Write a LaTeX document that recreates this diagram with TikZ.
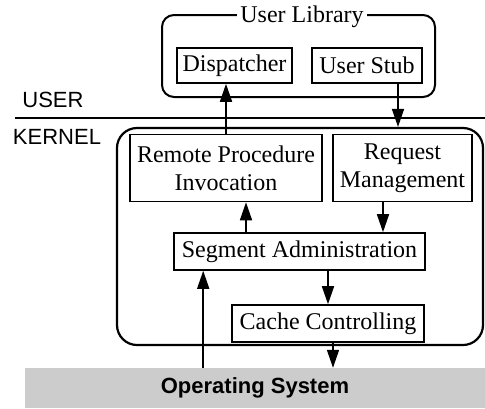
\documentclass[tikz,border=0pt]{standalone}
\usepackage{fontspec}
\setmainfont{Liberation Serif}
\newfontfamily\hv{Liberation Sans}
\usetikzlibrary{arrows.meta}
\begin{document}
\begin{tikzpicture}[x=1pt,y=-1pt,
  box/.style={draw,line width=1.6pt,inner sep=0pt,align=center,
    font=\fontsize{24}{28}\selectfont},
  arr/.style={line width=1.6pt,-{Triangle[length=18pt,width=12pt]}},
  lbl/.style={font=\hv\fontsize{22}{24}\selectfont,inner sep=0pt}]
\useasboundingbox (0,0) rectangle (485,408);
\fill[white] (0,0) rectangle (485,408);
% Operating system band
\node[fill=black!20,minimum width=460pt,minimum height=40pt,inner sep=0pt,
  font=\hv\bfseries\fontsize{22}{24}\selectfont] (os) at (255,388) {Operating System};
% user library
\node[draw,line width=2pt,rounded corners=12pt,minimum width=273pt,minimum height=82pt] (ulib) at (298.5,56) {};
\node[fill=white,inner sep=3pt,font=\fontsize{24}{28}\selectfont] (ultitle) at (302,17) {User Library};
\node[box,minimum width=115pt,minimum height=35pt] (disp) at (234.5,65.5) {Dispatcher};
\node[box,minimum width=110pt,minimum height=35pt] (us) at (367,65.5) {User Stub};
% user/kernel line
\coordinate (l1) at (15,118);
\coordinate (l2) at (485,118);
\draw[line width=2.2pt] (l1) -- (l2);
\node[lbl] (user) at (53,100) {USER};
\node[lbl] (kernel) at (57,136.5) {KERNEL};
% kernel
\node[draw,line width=2.2pt,rounded corners=20pt,minimum width=366pt,minimum height=217pt] (kern) at (300,236.5) {};
\node[box,minimum width=192pt,minimum height=67pt] (rpi) at (226,168) {Remote Procedure\\Invocation};
\node[box,minimum width=139pt,minimum height=67pt] (rm) at (402.5,168) {Request\\Management};
\node[box,minimum width=251pt,minimum height=37pt] (seg) at (299.5,251.5) {Segment Administration};
\node[box,minimum width=192pt,minimum height=37pt] (cache) at (328,323.5) {Cache Controlling};
% arrows
\draw[arr] (rpi.north) -- (rpi.north |- disp.south);
\coordinate (a2) at ([xshift=-4.5pt]rm.north);
\draw[arr] (a2 |- us.south) -- (a2 |- kern.north);
\coordinate (a3) at ([xshift=20pt]rpi.south);
\draw[arr] (a3 |- seg.north) -- (a3);
\coordinate (a4) at ([xshift=-19.5pt]rm.south);
\draw[arr] (a4) -- (a4 |- seg.north);
\draw[arr] (cache.north |- seg.south) -- (cache.north);
\coordinate (a6) at ([xshift=30pt]seg.south west);
\draw[arr] (a6 |- os.north) -- (a6);
\coordinate (a7) at ([xshift=5pt]cache.south);
\draw[arr] (a7) -- (a7 |- os.north);
\end{tikzpicture}
\end{document}
